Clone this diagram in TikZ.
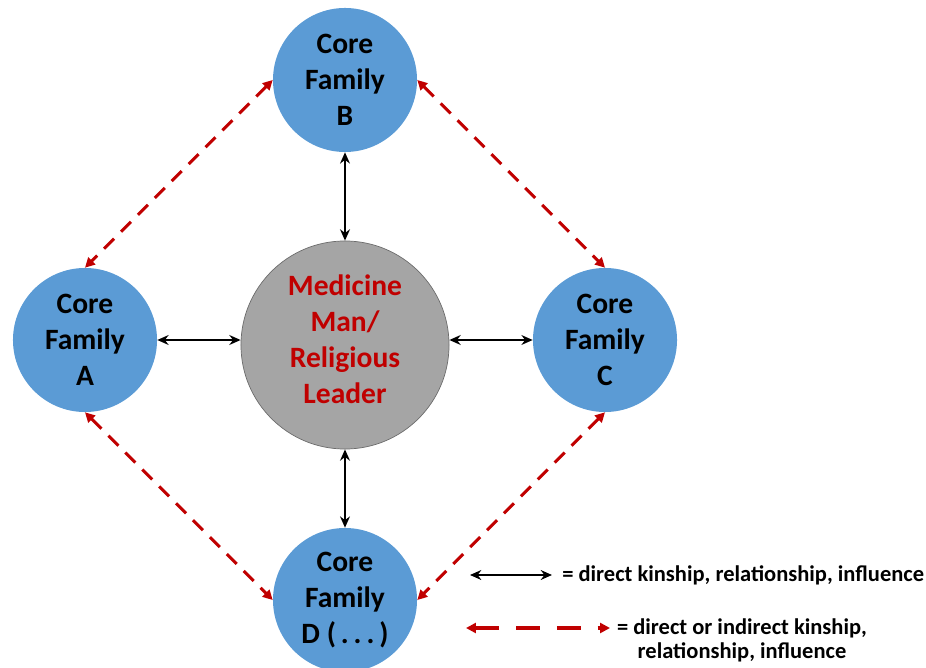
\documentclass[tikz,border=0pt]{standalone}
\usepackage{fontspec}
\setmainfont{Carlito}
\usetikzlibrary{arrows.meta}
\definecolor{famblue}{HTML}{5B9BD5}
\definecolor{leadgray}{HTML}{A5A5A5}
\definecolor{kinred}{HTML}{C00000}
\begin{document}
\begin{tikzpicture}[x=0.025cm,y=-0.025cm,
        family/.style={circle,fill=famblue,minimum size=3.6cm,inner sep=0pt,align=center,
            font=\fontsize{21}{25.6}\selectfont\bfseries},
        leader/.style={circle,fill=leadgray,draw=gray!85!black,line width=0.5pt,minimum size=5.2cm,
            inner sep=0pt,align=center,text=kinred,font=\fontsize{21}{25.6}\selectfont\bfseries},
        legtext/.style={font=\fontsize{16}{17.5}\selectfont\bfseries,inner sep=0pt},
        direct/.style={{Stealth[length=8pt,width=7pt]}-{Stealth[length=8pt,width=7pt]},line width=1.6pt},
        indirect/.style={{Triangle[length=7pt,width=7pt]}-{Triangle[length=7pt,width=7pt]},kinred,
            line width=2.2pt,dash pattern=on 10pt off 7pt}]
    \useasboundingbox (0,0) rectangle (926,668);
    % circles
    \node[leader] (lead) at (345,345) {Medicine\\Man/\\Religious\\Leader\\[-17pt]};
    \node[family] (fb) at (345,80) {Core\\Family\\B};
    \node[family] (fa) at (85,340) {Core\\Family\\A};
    \node[family] (fc) at (605,340) {Core\\Family\\C};
    \node[family] (fd) at (345,600) {Core\\Family\\D (\,.\,.\,.\,)};
    % direct links
    \draw[direct] (fb) -- (lead);
    \draw[direct] (fa) -- (fa-|lead.west);
    \draw[direct] (lead.east|-fc) -- (fc);
    \draw[direct] (lead) -- (fd);
    % indirect links
    \draw[indirect] (fb.west) -- (fa.north);
    \draw[indirect] (fb.east) -- (fc.north);
    \draw[indirect] (fa.south) -- (fd.west);
    \draw[indirect] (fc.south) -- (fd.east);
    % legend
    \coordinate (l1a) at (470,575);
    \coordinate (l1b) at (552,575);
    \coordinate (l2a) at (466,628);
    \coordinate (l2b) at (610,628);
    \draw[direct] (l1a) -- (l1b);
    \draw[indirect,dash pattern=on 17pt off 12pt] (l2a) -- (l2b);
    \node[legtext,anchor=west] (t1) at (562,575) {= direct kinship, relationship, influence};
    \node[legtext,anchor=north,align=center] (t2) at (742,618) {= direct or indirect kinship,\\relationship, influence};
\end{tikzpicture}
\end{document}
